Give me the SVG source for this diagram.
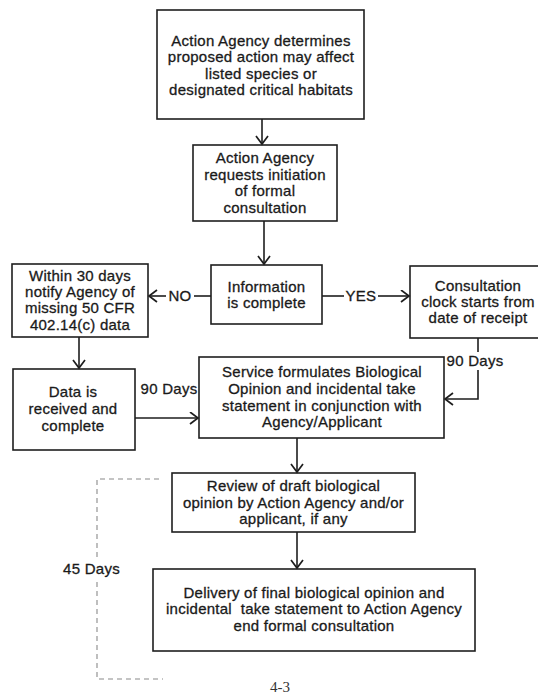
<svg xmlns="http://www.w3.org/2000/svg" width="538" height="694" viewBox="0 0 538 694">
<defs>
<style>
.box{fill:#fff;stroke:#1e1e1e;stroke-width:1.6}
.t{font-family:"Liberation Sans",Arial,sans-serif;font-size:15px;letter-spacing:0.25px;fill:#1a1a1a;stroke:#1a1a1a;stroke-width:0.3;text-anchor:middle}
.ln{fill:none;stroke:#1e1e1e;stroke-width:1.6}
.dash{fill:none;stroke:#8a8a8a;stroke-width:1.1;stroke-dasharray:5 4}
.pg{font-family:"Liberation Serif","Times New Roman",serif;font-size:15px;fill:#333;text-anchor:middle}
</style>
<marker id="arr" markerUnits="userSpaceOnUse" markerWidth="12" markerHeight="14" refX="9" refY="6.5" orient="auto">
<path d="M1,0.5 L9,6.5 L1,12.5" fill="none" stroke="#1e1e1e" stroke-width="1.7"/>
</marker>
</defs>
<rect width="538" height="694" fill="#fff"/>

<g id="n1">
<rect class="box" x="157" y="10" width="207" height="109"/>
<text class="t" x="261" y="45.5">Action Agency determines</text>
<text class="t" x="261" y="62">proposed action may affect</text>
<text class="t" x="261" y="78.5">listed species or</text>
<text class="t" x="261" y="95">designated critical habitats</text>
</g>

<g id="n2">
<rect class="box" x="193" y="145" width="144" height="76"/>
<text class="t" x="265" y="163">Action Agency</text>
<text class="t" x="265" y="180">requests initiation</text>
<text class="t" x="265" y="196">of formal</text>
<text class="t" x="265" y="213">consultation</text>
</g>

<g id="n3">
<rect class="box" x="211" y="265" width="111" height="59"/>
<text class="t" x="266.5" y="292">Information</text>
<text class="t" x="266.5" y="308">is complete</text>
</g>

<g id="n4">
<rect class="box" x="12" y="264" width="136" height="73"/>
<text class="t" x="80" y="281">Within 30 days</text>
<text class="t" x="80" y="297">notify Agency of</text>
<text class="t" x="80" y="313">missing 50 CFR</text>
<text class="t" x="80" y="330">402.14(c) data</text>
</g>

<g id="n5">
<rect class="box" x="410" y="266" width="132" height="72"/>
<text class="t" x="478" y="291">Consultation</text>
<text class="t" x="478" y="307">clock starts from</text>
<text class="t" x="478" y="323">date of receipt</text>
</g>

<g id="n6">
<rect class="box" x="13" y="369" width="122" height="81"/>
<text class="t" x="73" y="397">Data is</text>
<text class="t" x="73" y="414">received and</text>
<text class="t" x="73" y="431">complete</text>
</g>

<g id="n7">
<rect class="box" x="199" y="357" width="245" height="81"/>
<text class="t" x="322" y="377">Service formulates Biological</text>
<text class="t" x="322" y="394">Opinion and incidental take</text>
<text class="t" x="322" y="411">statement in conjunction with</text>
<text class="t" x="322" y="427">Agency/Applicant</text>
</g>

<g id="n8">
<rect class="box" x="172" y="473" width="243" height="59"/>
<text class="t" x="293.5" y="491">Review of draft biological</text>
<text class="t" x="293.5" y="508">opinion by Action Agency and/or</text>
<text class="t" x="293.5" y="524">applicant, if any</text>
</g>

<g id="n9">
<rect class="box" x="153" y="569" width="322" height="82"/>
<text class="t" x="314" y="598">Delivery of final biological opinion and</text>
<text class="t" x="314" y="614" xml:space="preserve">incidental  take statement to Action Agency</text>
<text class="t" x="314" y="631">end formal consultation</text>
</g>

<g id="connectors">
<path class="ln" d="M262,119 V144" marker-end="url(#arr)"/>
<path class="ln" d="M264,221 V264" marker-end="url(#arr)"/>
<path class="ln" d="M211,296 H194"/>
<path class="ln" d="M166,296 H149" marker-end="url(#arr)"/>
<text class="t" x="180" y="301">NO</text>
<path class="ln" d="M322,296 H344"/>
<path class="ln" d="M378,296 H409" marker-end="url(#arr)"/>
<text class="t" x="361" y="301">YES</text>
<path class="ln" d="M79,337 V368" marker-end="url(#arr)"/>
<path class="ln" d="M478,338 V352"/>
<text class="t" x="475" y="366">90 Days</text>
<path class="ln" d="M478,370 V399 H445" marker-end="url(#arr)"/>
<path class="ln" d="M135,418 H198" marker-end="url(#arr)"/>
<text class="t" x="169" y="394">90 Days</text>
<path class="ln" d="M297,438 V472" marker-end="url(#arr)"/>
<path class="ln" d="M297,532 V568" marker-end="url(#arr)"/>
<path class="dash" d="M159,479 H97 V560"/>
<path class="dash" d="M97,582 V679 H163"/>
<text class="t" x="91.5" y="574">45 Days</text>
</g>

<text class="pg" x="280" y="692">4-3</text>
</svg>
